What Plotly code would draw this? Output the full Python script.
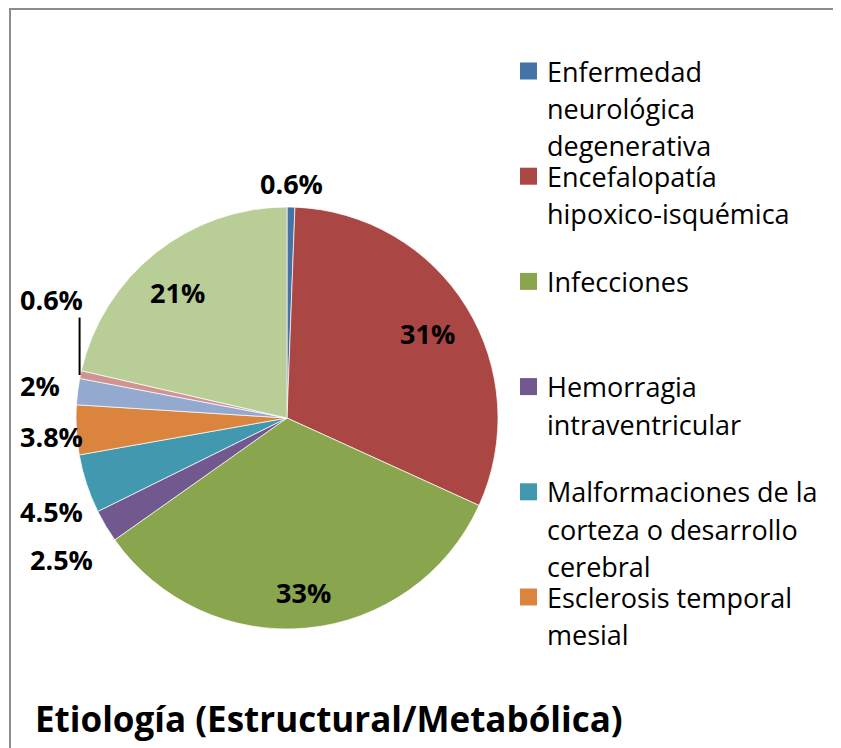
import math
import plotly.graph_objects as go

# ---- data ----
categories = [
    "Enfermedad neurológica degenerativa",
    "Encefalopatía hipoxico-isquémica",
    "Infecciones",
    "Hemorragia intraventricular",
    "Malformaciones de la corteza o desarrollo cerebral",
    "Esclerosis temporal mesial",
    "Otra 1",
    "Otra 2",
    "Otra 3",
]
values = [0.6, 31.2, 33.4, 2.5, 4.5, 3.8, 2.0, 0.6, 21.4]
value_labels = ["0.6%", "31%", "33%", "2.5%", "4.5%", "3.8%", "2%", "0.6%", "21%"]
colors = ["#4572A7", "#AA4643", "#89A54E", "#71588F", "#4198AF",
          "#DB843D", "#93A9CF", "#D19392", "#B9CD96"]
legend_lines = [
    ["Enfermedad", "neurológica", "degenerativa"],
    ["Encefalopatía", "hipoxico-isquémica"],
    ["Infecciones"],
    ["Hemorragia", "intraventricular"],
    ["Malformaciones de la", "corteza o desarrollo", "cerebral"],
    ["Esclerosis temporal", "mesial"],
]
title_text = "Etiología (Estructural/Metabólica)"

# ---- layout geometry (pixels, screen coords) ----
W, H = 841, 748
OFF = 8  # page body margin
CX, CY, R = 287, 418, 211
label_k = [1.11, 0.78, 0.83, 1.26, 1.20, 1.12, 1.18, 1.25, 0.79]
label_nudge = [0, 0.6, 0, -1.3, -3.4, -1.2, 0.2, 14.8, -2.5]
FONT = "Open Sans"

def px(x):
    return (x - OFF) / W

def py(y):
    return 1 - (y - OFF) / H

fig = go.Figure()
fig.add_trace(go.Pie(
    labels=categories, values=values, sort=False, direction="clockwise",
    rotation=0, textinfo="none", showlegend=False,
    marker=dict(colors=colors, line=dict(color="rgba(255,255,255,0.7)", width=1)),
    domain=dict(x=[px(CX - R), px(CX + R)], y=[py(CY + R), py(CY - R)]),
    hoverinfo="label+percent",
))

annotations = []
shapes = []
total = sum(values)
cum = 0
for i, v in enumerate(values):
    mid = (cum + v / 2) / total * 360
    cum += v
    th = math.radians(mid + label_nudge[i])
    lx = CX + label_k[i] * R * math.sin(th)
    ly = CY - label_k[i] * R * math.cos(th)
    annotations.append(dict(
        x=px(lx), y=py(ly), xref="paper", yref="paper",
        text="<b>%s</b>" % value_labels[i], showarrow=False,
        font=dict(family=FONT, size=27, color="black"),
        xanchor="center", yanchor="middle",
    ))
    if i == 7:  # leader line for tiny slice
        tm = math.radians(mid)
        ex = CX + 0.99 * R * math.sin(tm) - 3
        ey = CY - 0.99 * R * math.cos(tm)
        shapes.append(dict(type="line", xref="paper", yref="paper",
                           x0=px(ex), y0=py(ey), x1=px(ex), y1=py(ly + 18),
                           line=dict(color="black", width=2)))

# legend drawn manually (only the visible entries)
LX_SQ, LX_TXT, LY0, LSTEP, LLINE, SQ = 520, 545, 71, 105.2, 37.5, 17
for i, lines in enumerate(legend_lines):
    yc = LY0 + i * LSTEP
    shapes.append(dict(type="rect", xref="paper", yref="paper",
                       x0=px(LX_SQ), x1=px(LX_SQ + SQ),
                       y0=py(yc + SQ / 2), y1=py(yc - SQ / 2),
                       fillcolor=colors[i], line=dict(width=0)))
    for j, t in enumerate(lines):
        annotations.append(dict(
            x=px(LX_TXT), y=py(yc + j * LLINE), xref="paper", yref="paper",
            text=t, showarrow=False, xanchor="left", yanchor="middle",
            font=dict(family=FONT, size=27, color="black"),
        ))

# title
annotations.append(dict(
    x=px(33), y=py(718), xref="paper", yref="paper",
    text="<b>%s</b>" % title_text, showarrow=False,
    xanchor="left", yanchor="middle",
    font=dict(family=FONT, size=35, color="black"),
))

# chart border (only top/left visible)
shapes.append(dict(type="rect", xref="paper", yref="paper",
                   x0=px(10), x1=1.5, y0=-0.5, y1=py(8.9),
                   line=dict(color="#8C8C8C", width=2), fillcolor="rgba(0,0,0,0)"))

fig.update_layout(
    width=W, height=H, margin=dict(l=0, r=0, t=0, b=0),
    paper_bgcolor="white", plot_bgcolor="white",
    annotations=annotations, shapes=shapes, showlegend=False,
)
fig.write_html("out.html")
